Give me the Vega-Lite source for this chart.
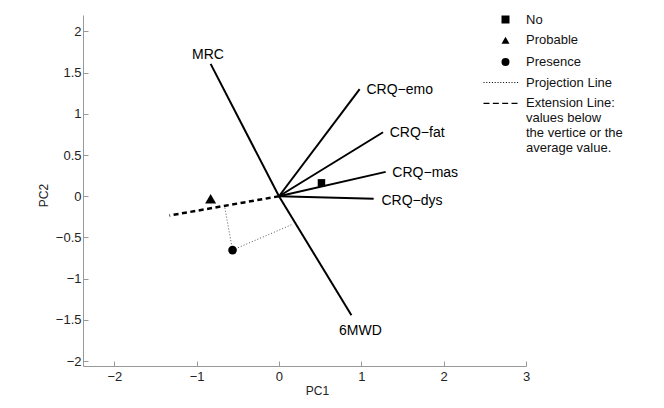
{
  "$schema": "https://vega.github.io/schema/vega-lite/v6.json",
  "width": 443,
  "height": 351,
  "autosize": {"type": "none"},
  "padding": {"left": 83, "top": 15, "right": 138, "bottom": 42},
  "config": {
    "view": {"stroke": null},
    "font": "Liberation Sans",
    "text": {"font": "Liberation Sans"}
  },
  "datasets": {
    "lines": [
      {"name": "MRC", "kind": "vector", "x": 0, "y": 0, "xe": -0.83, "ye": 1.607},
      {"name": "CRQ-emo", "kind": "vector", "x": 0, "y": 0, "xe": 0.98, "ye": 1.30},
      {"name": "CRQ-fat", "kind": "vector", "x": 0, "y": 0, "xe": 1.264, "ye": 0.777},
      {"name": "CRQ-mas", "kind": "vector", "x": 0, "y": 0, "xe": 1.296, "ye": 0.296},
      {"name": "CRQ-dys", "kind": "vector", "x": 0, "y": 0, "xe": 1.15, "ye": -0.03},
      {"name": "6MWD", "kind": "vector", "x": 0, "y": 0, "xe": 0.88, "ye": -1.444},
      {"name": "Extension", "kind": "extension", "x": 0, "y": 0, "xe": -1.33, "ye": -0.234},
      {"name": "Projection A", "kind": "projection", "x": -0.564, "y": -0.653, "xe": -0.66, "ye": -0.125},
      {"name": "Projection B", "kind": "projection", "x": -0.564, "y": -0.653, "xe": 0.165, "ye": -0.34}
    ],
    "points": [
      {"group": "No", "x": 0.516, "y": 0.163},
      {"group": "Probable", "x": -0.83, "y": -0.03},
      {"group": "Presence", "x": -0.564, "y": -0.653}
    ],
    "labels": [
      {"label": "MRC", "x": -0.862, "y": 1.715},
      {"label": "6MWD", "x": 0.989, "y": -1.64},
      {"label": "CRQ−emo", "x": 1.062, "y": 1.29},
      {"label": "CRQ−fat", "x": 1.345, "y": 0.772},
      {"label": "CRQ−mas", "x": 1.377, "y": 0.28},
      {"label": "CRQ−dys", "x": 1.244, "y": -0.056}
    ]
  },
  "encoding": {
    "x": {
      "field": "x", "type": "quantitative",
      "scale": {"domain": [-2.38, 3.0], "nice": false, "zero": false},
      "axis": {
        "title": "PC1", "values": [-2, -1, 0, 1, 2, 3], "format": "~g",
        "grid": false, "domainColor": "#999", "tickColor": "#999",
        "tickSize": -5, "labelPadding": 9, "labelFontSize": 13, "labelColor": "#222",
        "labelFlush": false, "labelOverlap": false, "labelBound": false,
        "titleFontSize": 12, "titleFontWeight": "normal", "titleColor": "#222",
        "titleX": 234, "titleY": 24, "titleBaseline": "middle"
      }
    },
    "y": {
      "field": "y", "type": "quantitative",
      "scale": {"domain": [-2.06, 2.2], "nice": false, "zero": false},
      "axis": {
        "title": "PC2", "values": [-2, -1.5, -1, -0.5, 0, 0.5, 1, 1.5, 2], "format": "~g",
        "grid": false, "domainColor": "#999", "tickColor": "#999",
        "tickSize": -5, "labelPadding": 7, "labelFontSize": 13, "labelColor": "#222",
        "labelFlush": false, "labelOverlap": false, "labelBound": false,
        "titleFontSize": 12, "titleFontWeight": "normal", "titleColor": "#222",
        "titleX": -40, "titleY": 180, "titleBaseline": "middle"
      }
    }
  },
  "layer": [
    {
      "data": {"name": "lines"},
      "transform": [{"filter": "datum.kind === 'vector'"}],
      "mark": {"type": "rule", "color": "black", "strokeWidth": 2},
      "encoding": {"x2": {"field": "xe"}, "y2": {"field": "ye"}}
    },
    {
      "data": {"name": "lines"},
      "transform": [{"filter": "datum.kind === 'extension'"}],
      "mark": {"type": "rule", "color": "black", "strokeWidth": 2.5, "strokeDash": [5, 3.5]},
      "encoding": {"x2": {"field": "xe"}, "y2": {"field": "ye"}}
    },
    {
      "data": {"name": "lines"},
      "transform": [{"filter": "datum.kind === 'projection'"}],
      "mark": {"type": "rule", "color": "#555", "strokeWidth": 1, "strokeDash": [1, 2]},
      "encoding": {"x2": {"field": "xe"}, "y2": {"field": "ye"}}
    },
    {
      "data": {"name": "labels"},
      "transform": [{"filter": "datum.label === 'MRC' || datum.label === '6MWD'"}],
      "mark": {"type": "text", "fontSize": 14, "align": "center", "baseline": "middle", "color": "black"},
      "encoding": {"text": {"field": "label"}}
    },
    {
      "data": {"name": "labels"},
      "transform": [{"filter": "datum.label !== 'MRC' && datum.label !== '6MWD'"}],
      "mark": {"type": "text", "fontSize": 14, "align": "left", "baseline": "middle", "color": "black"},
      "encoding": {"text": {"field": "label"}}
    },
    {
      "data": {"name": "points"},
      "mark": {"type": "point", "filled": true, "color": "black", "opacity": 1},
      "encoding": {
        "size": {
          "field": "group", "type": "nominal",
          "scale": {"type": "ordinal", "domain": ["No", "Probable", "Presence"], "range": [56, 120, 75]},
          "legend": null
        },
        "shape": {
          "field": "group", "type": "nominal",
          "scale": {
            "domain": ["No", "Probable", "Presence", "Projection Line", "Extension Line"],
            "range": [
              "square", "triangle-up", "circle",
              "M-5.5,-0.125h0.25v0.25h-0.25z M-4.8,-0.125h0.25v0.25h-0.25z M-4.1,-0.125h0.25v0.25h-0.25z M-3.4,-0.125h0.25v0.25h-0.25z M-2.7,-0.125h0.25v0.25h-0.25z M-2.0,-0.125h0.25v0.25h-0.25z M-1.3,-0.125h0.25v0.25h-0.25z M-0.6,-0.125h0.25v0.25h-0.25z M0.1,-0.125h0.25v0.25h-0.25z M0.8,-0.125h0.25v0.25h-0.25z M1.5,-0.125h0.25v0.25h-0.25z M2.2,-0.125h0.25v0.25h-0.25z M2.9,-0.125h0.25v0.25h-0.25z",
              "M-5.5,-0.156h1.5v0.312h-1.5z M-3.167,-0.156h1.5v0.312h-1.5z M-0.833,-0.156h1.5v0.312h-1.5z M1.5,-0.156h1.5v0.312h-1.5z"
            ]
          },
          "legend": {
            "title": null, "orient": "none", "legendX": 416, "legendY": -2,
            "symbolSize": 64, "labelFontSize": 13, "labelFont": "Liberation Sans", "labelColor": "#111",
            "labelOffset": 14, "rowPadding": 6.7, "padding": 0, "labelLimit": 300,
            "labelExpr": "datum.label === 'Extension Line' ? ['Extension Line:', 'values below', 'the vertice or the', 'average value.'] : datum.label",
            "encode": {
              "symbols": {
                "update": {
                  "fill": {"signal": "datum.value === 'Projection Line' ? '#888' : 'black'"},
                  "opacity": {"value": 1},
                  "size": {"signal": "datum.value === 'Probable' ? 120 : datum.value === 'Presence' ? 75 : datum.value === 'No' ? 56 : 64"}
                }
              },
              "labels": {
                "update": {
                  "dy": {"signal": "datum.value === 'Extension Line' ? 23.25 : 0"},
                  "lineHeight": {"value": 15.5}
                }
              }
            }
          }
        }
      }
    }
  ]
}
